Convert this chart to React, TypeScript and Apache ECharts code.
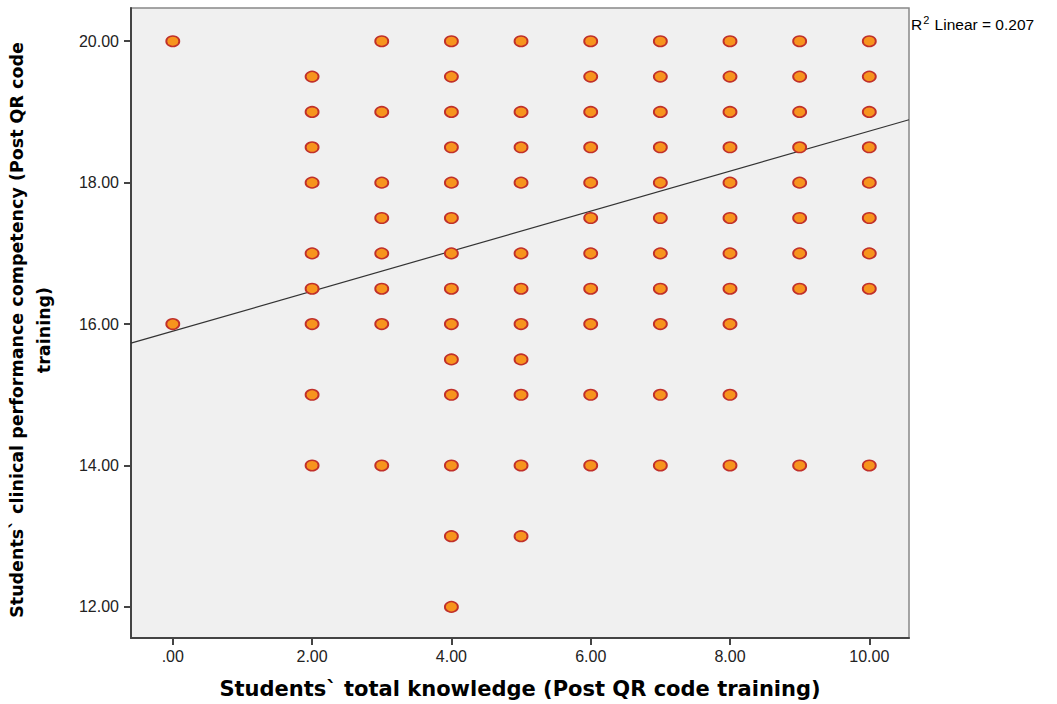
import React, { useEffect, useRef } from "react";
import * as echarts from "echarts";

const xTicks = [0, 2, 4, 6, 8, 10];
const yTicks = [12, 14, 16, 18, 20];

// knowledge score -> competency scores observed
const xValues = [0, 2, 3, 4, 5, 6, 7, 8, 9, 10];
const yByX: number[][] = [
  [20, 16],
  [19.5, 19, 18.5, 18, 17, 16.5, 16, 15, 14],
  [20, 19, 18, 17.5, 17, 16.5, 16, 14],
  [20, 19.5, 19, 18.5, 18, 17.5, 17, 16.5, 16, 15.5, 15, 14, 13, 12],
  [20, 19, 18.5, 18, 17, 16.5, 16, 15.5, 15, 14, 13],
  [20, 19.5, 19, 18.5, 18, 17.5, 17, 16.5, 16, 15, 14],
  [20, 19.5, 19, 18.5, 18, 17.5, 17, 16.5, 16, 15, 14],
  [20, 19.5, 19, 18.5, 18, 17.5, 17, 16.5, 16, 15, 14],
  [20, 19.5, 19, 18.5, 18, 17.5, 17, 16.5, 14],
  [20, 19.5, 19, 18.5, 18, 17.5, 17, 16.5, 14],
];

const fitLine = [
  [-0.6, 15.73],
  [10.57, 18.89],
];

const X_MIN = -0.6;
const X_MAX = 10.57;
const Y_MIN = 11.56;
const Y_MAX = 20.47;

const fmt = (v: number) => (v === 0 ? ".00" : v.toFixed(2));

export default function App() {
  const ref = useRef<HTMLDivElement>(null);
  useEffect(() => {
    if (!ref.current) return;
    const chart = echarts.init(ref.current, null, { renderer: "svg" });
    const points: number[][] = [];
    xValues.forEach((x, i) => yByX[i].forEach((y) => points.push([x, y])));
    const font = "'Liberation Sans', Arial, sans-serif";
    const boldFont = "'DejaVu Sans', Verdana, sans-serif";
    chart.setOption({
      animation: false,
      backgroundColor: "#ffffff",
      textStyle: { fontFamily: font },
      grid: {
        left: 131,
        right: 148,
        top: 8,
        bottom: 66,
        outerBoundsMode: "none",
        containLabel: false,
        show: true,
        backgroundColor: "#f0f0f0",
        borderColor: "#888",
        borderWidth: 1.5,
      },
      xAxis: {
        type: "value",
        min: X_MIN,
        max: X_MAX,
        name: "Students` total knowledge (Post QR code training)",
        nameLocation: "middle",
        nameGap: 40,
        nameTextStyle: { fontSize: 21, fontWeight: "bold", color: "#000", fontFamily: boldFont },
        axisLine: { show: true, onZero: false, lineStyle: { color: "#444", width: 2 } },
        axisTick: { show: true, length: 7, lineStyle: { color: "#444", width: 2 }, customValues: xTicks },
        axisLabel: { color: "#222", fontSize: 16, margin: 10, customValues: xTicks, formatter: fmt },
        splitLine: { show: false },
      },
      yAxis: {
        type: "value",
        min: Y_MIN,
        max: Y_MAX,
        name: "Students` clinical performance competency (Post QR code\ntraining)",
        nameLocation: "middle",
        nameGap: 74,
        nameRotate: 90,
        nameTextStyle: {
          fontSize: 17.5,
          fontWeight: "bold",
          color: "#000",
          lineHeight: 27,
          fontFamily: boldFont,
          padding: [0, 14, 0, 0],
        },
        axisLine: { show: true, onZero: false, lineStyle: { color: "#444", width: 2 } },
        axisTick: { show: true, length: 7, lineStyle: { color: "#444", width: 2 }, customValues: yTicks },
        axisLabel: { color: "#222", fontSize: 16, margin: 12, customValues: yTicks, formatter: fmt },
        splitLine: { show: false },
      },
      graphic: [
        {
          type: "text",
          left: 911,
          top: 14,
          style: {
            text: "{a|R}{s|2}{a| Linear = 0.207}",
            rich: {
              a: { fontSize: 15.5, fill: "#000", fontFamily: font, verticalAlign: "bottom" },
              s: { fontSize: 11, fill: "#000", fontFamily: font, padding: [0, 1, 7, 1] },
            },
          },
        },
      ],
      series: [
        {
          type: "line",
          data: fitLine,
          symbol: "none",
          silent: true,
          lineStyle: { color: "#333", width: 1.2 },
          z: 1,
        },
        {
          type: "scatter",
          data: points,
          symbol: "circle",
          symbolSize: [13, 10.5],
          itemStyle: { color: "#f7941d", borderColor: "#c0302a", borderWidth: 1.7, opacity: 1 },
          z: 2,
        },
      ],
    });
    return () => chart.dispose();
  }, []);
  return (
    <div
      ref={ref}
      style={{ position: "absolute", left: 0, top: 0, width: 1057, height: 704 }}
    />
  );
}
